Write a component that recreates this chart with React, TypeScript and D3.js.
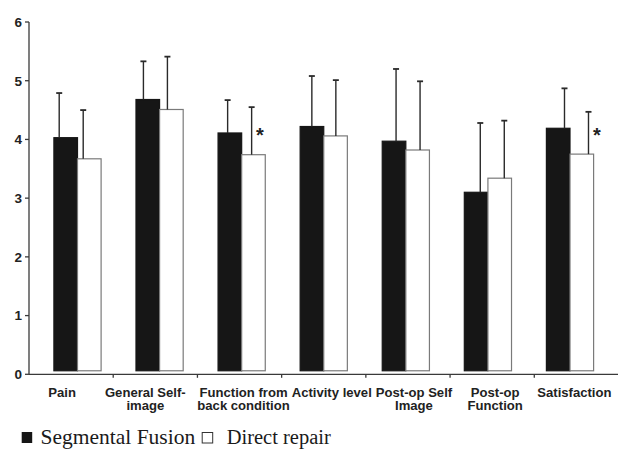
import React, { useEffect, useRef } from "react";
import * as d3 from "d3";

const categories = [
  ["Pain"],
  ["General Self-", "image"],
  ["Function from", "back condition"],
  ["Activity level"],
  ["Post-op Self", "Image"],
  ["Post-op", "Function"],
  ["Satisfaction"],
];
const fusionMean = [4.03, 4.68, 4.11, 4.22, 3.97, 3.1, 4.19];
const fusionSD = [0.76, 0.65, 0.56, 0.86, 1.23, 1.18, 0.68];
const repairMean = [3.67, 4.51, 3.74, 4.06, 3.82, 3.34, 3.75];
const repairSD = [0.83, 0.9, 0.81, 0.95, 1.17, 0.98, 0.72];
const significant = [false, false, true, false, false, false, true];
const yTicks = [0, 1, 2, 3, 4, 5, 6];
const barBase = 0.06;

// label nudges (layout only): the original labels are not centred on the ticks
const labelShift = [-9, -10, 4, 8, 6, 3, -2];

const App = () => {
  const svgRef = useRef<SVGSVGElement>(null);

  useEffect(() => {
    const width = 618;
    const height = 449;
    const svg = d3.select(svgRef.current).attr("width", width).attr("height", height);
    svg.selectAll("*").remove();

    const keys = categories.map((c) => c.join(" "));
    const data = keys.map((k, i) => ({
      key: k,
      idx: i,
      lines: categories[i],
      series: [
        { name: "fusion", mean: fusionMean[i], sd: fusionSD[i] },
        { name: "repair", mean: repairMean[i], sd: repairSD[i] },
      ],
      sig: significant[i],
    }));

    const y = d3.scaleLinear().domain([0, 6]).range([374.3, 22]);
    // axis categories
    const x = d3.scaleBand().domain(keys).range([29, 618.5]);
    // bar pairs sit on a slightly narrower grid than the axis
    const barX = d3.scalePoint().domain(keys).range([77.5, 570]);
    const barW = 23.6;
    const inner = d3.scaleBand().domain(["fusion", "repair"]).range([-barW, barW]);
    const errOff: Record<string, number> = { fusion: -11.9, repair: 12.1 };

    const axisColor = "#3a3a3a";
    const font = "'Liberation Sans', Arial, sans-serif";

    // bars
    const groups = svg.append("g").selectAll("g").data(data).enter().append("g");
    groups
      .selectAll("rect")
      .data((d) => d.series.map((s) => ({ ...s, key: d.key })))
      .enter()
      .append("rect")
      .attr("x", (s) => barX(s.key)! + inner(s.name)!)
      .attr("y", (s) => y(s.mean))
      .attr("width", inner.bandwidth())
      .attr("height", (s) => y(barBase) - y(s.mean))
      .attr("fill", (s) => (s.name === "fusion" ? "#161616" : "#ffffff"))
      .attr("stroke", (s) => (s.name === "fusion" ? "#161616" : "#7a7a7a"))
      .attr("stroke-width", 1.2);

    // error bars
    const err = groups
      .selectAll("g.err")
      .data((d) => d.series.map((s) => ({ ...s, key: d.key })))
      .enter()
      .append("g")
      .attr("class", "err");
    const ex = (s: { key: string; name: string }) => x(s.key)! + x.bandwidth() / 2 + errOff[s.name];
    err
      .append("line")
      .attr("x1", ex)
      .attr("x2", ex)
      .attr("y1", (s) => y(s.mean))
      .attr("y2", (s) => y(s.mean + s.sd))
      .attr("stroke", "#2a2a2a")
      .attr("stroke-width", 1.4);
    err
      .append("line")
      .attr("x1", (s) => ex(s) - 3)
      .attr("x2", (s) => ex(s) + 3)
      .attr("y1", (s) => y(s.mean + s.sd))
      .attr("y2", (s) => y(s.mean + s.sd))
      .attr("stroke", "#2a2a2a")
      .attr("stroke-width", 1.8);

    // significance stars
    groups
      .filter((d) => d.sig)
      .append("text")
      .attr("x", (d) => ex({ key: d.key, name: "repair" }) + 8.3)
      .attr("y", 142)
      .attr("text-anchor", "middle")
      .style("font-family", font)
      .style("font-weight", "bold")
      .style("font-size", "20px")
      .attr("fill", "#222")
      .text("*");

    // y axis
    svg
      .append("line")
      .attr("x1", 29)
      .attr("x2", 29)
      .attr("y1", y(6))
      .attr("y2", y(0))
      .attr("stroke", axisColor)
      .attr("stroke-width", 1.3);
    const yt = svg.append("g").selectAll("g").data(yTicks).enter().append("g");
    yt.append("line")
      .attr("x1", 25)
      .attr("x2", 29)
      .attr("y1", (d) => y(d))
      .attr("y2", (d) => y(d))
      .attr("stroke", axisColor)
      .attr("stroke-width", 1.3);
    yt.append("text")
      .attr("x", 22)
      .attr("y", (d) => y(d))
      .attr("dy", "0.36em")
      .attr("text-anchor", "end")
      .style("font-family", font)
      .style("font-weight", "bold")
      .style("font-size", "13.5px")
      .attr("fill", "#222")
      .text((d) => d);

    // x axis
    svg
      .append("line")
      .attr("x1", 29)
      .attr("x2", 618)
      .attr("y1", y(0))
      .attr("y2", y(0))
      .attr("stroke", axisColor)
      .attr("stroke-width", 1.3);
    svg
      .append("g")
      .selectAll("line")
      .data(keys.slice(1))
      .enter()
      .append("line")
      .attr("x1", (k) => x(k)!)
      .attr("x2", (k) => x(k)!)
      .attr("y1", y(0))
      .attr("y2", y(0) + 3.5)
      .attr("stroke", axisColor)
      .attr("stroke-width", 1.3);

    const lbl = svg
      .append("g")
      .selectAll("text")
      .data(data)
      .enter()
      .append("text")
      .attr("text-anchor", "middle")
      .style("font-family", font)
      .style("font-weight", "bold")
      .style("font-size", "13.1px")
      .attr("fill", "#222");
    lbl
      .selectAll("tspan")
      .data((d) => d.lines.map((l) => ({ l, key: d.key, idx: d.idx })))
      .enter()
      .append("tspan")
      .attr("x", (t) => x(t.key)! + x.bandwidth() / 2 + labelShift[t.idx])
      .attr("y", (t, i) => 396.7 + i * 12.8)
      .text((t) => t.l);

    // legend
    const lg = svg.append("g");
    lg.append("rect").attr("x", 21.7).attr("y", 432).attr("width", 10.5).attr("height", 11).attr("fill", "#161616");
    lg.append("text")
      .attr("x", 40.5)
      .attr("y", 444)
      .style("font-family", "'Liberation Serif', 'Times New Roman', serif")
      .style("font-size", "21.5px")
      .attr("fill", "#1a1a1a")
      .text("Segmental Fusion");
    lg.append("rect")
      .attr("x", 202.2)
      .attr("y", 432.5)
      .attr("width", 10.5)
      .attr("height", 10.5)
      .attr("fill", "#fff")
      .attr("stroke", "#333")
      .attr("stroke-width", 1);
    lg.append("text")
      .attr("x", 226.7)
      .attr("y", 444)
      .style("font-family", "'Liberation Serif', 'Times New Roman', serif")
      .style("font-size", "20.5px")
      .attr("fill", "#1a1a1a")
      .text("Direct repair");
  }, []);

  return (
    <div style={{ position: "absolute", left: 0, top: 0 }}>
      <svg ref={svgRef} style={{ display: "block", background: "#fff" }}></svg>
    </div>
  );
};

export default App;
